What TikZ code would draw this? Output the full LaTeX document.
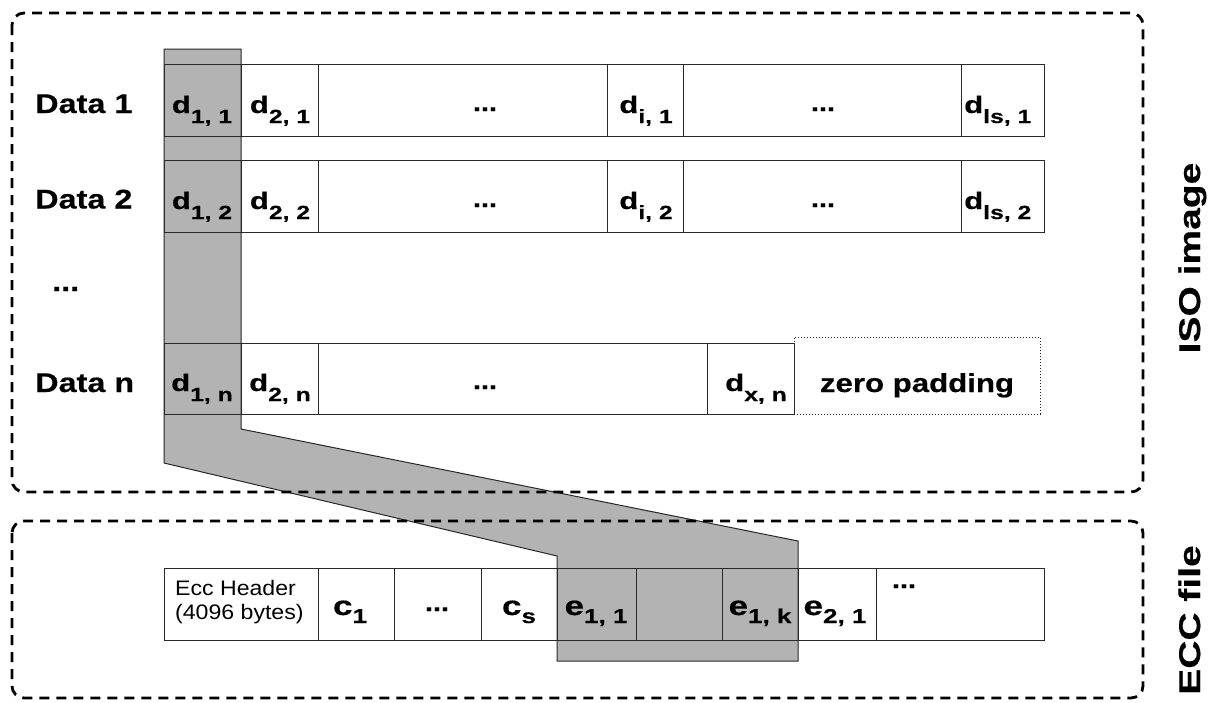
\documentclass[tikz,border=0pt]{standalone}
\usepackage{fontspec}
\setmainfont{Liberation Sans}
\newfontfamily\wsf[FakeStretch=1.2,FakeBold=0.4]{Liberation Sans}
\newfontfamily\vsf[FakeStretch=1.3,FakeBold=0.4]{Liberation Sans}
\newfontfamily\xsf[FakeStretch=1.3,FakeBold=0.4]{Liberation Sans}
\newfontfamily\hsf[FakeStretch=1.1]{Liberation Sans}
\definecolor{shade}{RGB}{179,179,179}
\definecolor{linec}{RGB}{40,40,40}
\newcommand{\dsub}[2]{{\fontsize{24}{24}\selectfont #1}\raisebox{-10pt}{\fontsize{19}{19}\selectfont #2}}
\newcommand{\csub}[2]{{\fontsize{27}{27}\selectfont #1}\raisebox{-8pt}{\fontsize{20}{20}\selectfont #2}}
\newcommand{\mkcell}[5]{\node[cell,minimum width={#3-#2},minimum height={#5-#4}] (#1) at ({(#2+#3)/2},{(#4+#5)/2}) {};}
\begin{document}
\begin{tikzpicture}[x=1pt,y=-1pt,
  cell/.style={draw=linec, line width=1pt, inner sep=0pt},
  lab/.style={font=\vsf\bfseries, inner sep=0pt, anchor=base},
  biglab/.style={font=\wsf\bfseries\fontsize{27}{27}\selectfont, inner sep=0pt, anchor=base west},
  dotlab/.style={font=\wsf\bfseries\fontsize{24}{24}\selectfont, inner sep=0pt, anchor=base},
  side/.style={font=\xsf\bfseries\fontsize{30}{30}\selectfont, inner sep=0pt, anchor=base, rotate=90},
  dashbox/.style={draw=black, line width=2.8pt, dash pattern=on 10pt off 7pt, rounded corners=12pt},
  shadepoly/.style={fill=shade, draw=linec, line width=1pt},
  padbox/.style={draw=linec, line width=0.8pt, dash pattern=on 1pt off 2pt, inner sep=0pt}
]
\useasboundingbox (0,0) rectangle (1215,702);

% gray column / band
\draw[shadepoly] (164,49) -- (241,49) -- (241,429) -- (798,541) -- (798,661)
  -- (557,661) -- (557,556) -- (164,463) -- cycle;

% dashed containers
\draw[dashbox] (12,13) rectangle (1143,492);
\draw[dashbox] (12,521) rectangle (1143,698);

% row 1
\mkcell{r1a}{164}{241}{64}{136}
\mkcell{r1b}{241}{318}{64}{136}
\mkcell{r1c}{318}{607}{64}{136}
\mkcell{r1d}{607}{683}{64}{136}
\mkcell{r1e}{683}{961}{64}{136}
\mkcell{r1f}{961}{1044}{64}{136}
% row 2
\mkcell{r2a}{164}{241}{160}{232}
\mkcell{r2b}{241}{318}{160}{232}
\mkcell{r2c}{318}{607}{160}{232}
\mkcell{r2d}{607}{683}{160}{232}
\mkcell{r2e}{683}{961}{160}{232}
\mkcell{r2f}{961}{1044}{160}{232}
% row n
\mkcell{rna}{164}{241}{343}{414}
\mkcell{rnb}{241}{318}{343}{414}
\mkcell{rnc}{318}{707}{343}{414}
\mkcell{rnd}{707}{794}{343}{414}
\node[padbox,minimum width=246pt,minimum height=77pt] (pad) at (917,375.5) {};
% ecc row
\mkcell{eh}{164}{318}{568}{640}
\mkcell{ec1}{318}{394}{568}{640}
\mkcell{ecd}{394}{481}{568}{640}
\mkcell{ecs}{481}{557}{568}{640}
\mkcell{ee1}{557}{636}{568}{640}
\mkcell{eeb}{636}{722}{568}{640}
\mkcell{eek}{722}{798}{568}{640}
\mkcell{ee2}{798}{876}{568}{640}
\mkcell{eed}{876}{1044}{568}{640}

% row labels
\node[biglab] (l1) at (35,113) {Data 1};
\node[biglab] (l2) at (35,208.5) {Data 2};
\node[biglab] (l3) at (52,291) {...};
\node[biglab] (ln) at (35,392) {Data n};

% row 1 texts
\node[lab] (t11) at (202,113) {\dsub{d}{1, 1}};
\node[lab] (t21) at (280,113) {\dsub{d}{2, 1}};
\node[dotlab] (t31) at (485,111) {...};
\node[lab] (ti1) at (646,113) {\dsub{d}{i, 1}};
\node[dotlab] (t51) at (823,111) {...};
\node[lab,anchor=base west] (tl1) at (964,113) {\dsub{d}{ls, 1}};
% row 2 texts
\node[lab] (t12) at (202,209) {\dsub{d}{1, 2}};
\node[lab] (t22) at (280,209) {\dsub{d}{2, 2}};
\node[dotlab] (t32) at (485,207) {...};
\node[lab] (ti2) at (646,209) {\dsub{d}{i, 2}};
\node[dotlab] (t52) at (823,207) {...};
\node[lab,anchor=base west] (tl2) at (964,209) {\dsub{d}{ls, 2}};
% row n texts
\node[lab] (t1n) at (202,391) {\dsub{d}{1, n}};
\node[lab] (t2n) at (280,391) {\dsub{d}{2, n}};
\node[dotlab] (t3n) at (485,389) {...};
\node[lab] (txn) at (756,391) {\dsub{d}{x, n}};
\node[lab,font=\wsf\bfseries\fontsize{26}{26}\selectfont] (tpad) at (917,392) {zero padding};

% ecc texts
\node[anchor=north west, inner sep=0pt, align=left, font=\hsf\fontsize{21}{24}\selectfont] (thdr) at (175,580.5) {Ecc Header\\(4096 bytes)};
\node[lab] (tc1) at (350,615) {\csub{c}{1}};
\node[dotlab] (tcd) at (437,611) {...};
\node[lab] (tcs) at (519,615) {\csub{c}{s}};
\node[lab] (te11) at (596,615) {\csub{e}{1, 1}};
\node[lab] (te1k) at (760,615) {\csub{e}{1, k}};
\node[lab] (te21) at (835,615) {\csub{e}{2, 1}};
\node[dotlab] (ted) at (904,588) {...};

% side titles
\node[side] (siso) at (1200,258) {ISO image};
\node[side] (secc) at (1200,620) {ECC file};
\end{tikzpicture}
\end{document}
